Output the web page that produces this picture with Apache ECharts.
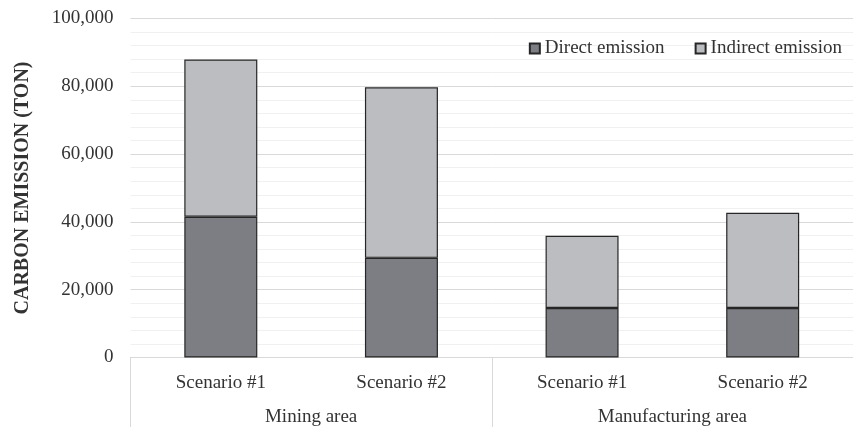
<!DOCTYPE html>
<html>
<head>
<meta charset="utf-8">
<script src="https://cdn.jsdelivr.net/npm/echarts@6/dist/echarts.min.js"></script>
<style>
  html, body { margin: 0; padding: 0; background: #fff; }
  #chart { width: 853px; height: 427px; }
</style>
</head>
<body>
<div id="chart"></div>
<script>
// scenario labels and the area each pair belongs to
const scenarios = ['Scenario #1', 'Scenario #2', 'Scenario #1', 'Scenario #2'];
const areas = ['Mining area', 'Manufacturing area'];

// carbon emission (ton)
const directEmission = [41500, 29400, 14600, 14600];
const indirectEmission = [46400, 50300, 21300, 28100];

const FONT = "'Liberation Serif', 'Times New Roman', serif";
const TEXT = '#333333';

const chart = echarts.init(document.getElementById('chart'));

const option = {
  backgroundColor: '#ffffff',
  textStyle: { fontFamily: FONT },
  legend: {
    right: 6,
    top: 34,
    itemWidth: 10,
    itemHeight: 10,
    itemGap: 30,
    icon: 'rect',
    textStyle: { fontFamily: FONT, fontSize: 19, color: TEXT },
  },
  grid: {
    left: 130.5,
    top: 18.5,
    width: 736,
    height: 339,
  },
  xAxis: [
    {
      type: 'category',
      data: scenarios,
      axisLine: { lineStyle: { color: '#d9d9d9', width: 1 } },
      axisTick: { show: false },
      axisLabel: { fontFamily: FONT, fontSize: 19, color: TEXT, margin: 16, interval: 0 },
    },
    {
      type: 'category',
      data: areas,
      position: 'bottom',
      axisLine: { show: false },
      axisTick: { show: true, length: 75, interval: 0, lineStyle: { color: '#d9d9d9' } },
      axisLabel: { fontFamily: FONT, fontSize: 19, color: TEXT, margin: 50, interval: 0 },
    },
  ],
  yAxis: {
    type: 'value',
    min: 0,
    max: 100000,
    interval: 20000,
    name: 'CARBON EMISSION (TON)',
    nameLocation: 'middle',
    nameGap: 98,
    nameTextStyle: { fontFamily: FONT, fontSize: 20, fontWeight: 'bold', color: TEXT },
    axisLine: { show: false },
    axisTick: { show: false },
    axisLabel: {
      fontFamily: FONT,
      fontSize: 19,
      color: TEXT,
      margin: 17,
      formatter: (v) => v.toLocaleString('en-US'),
    },
    splitLine: { lineStyle: { color: '#d9d9d9' } },
    minorTick: { show: false, splitNumber: 5 },
    minorSplitLine: { show: true, lineStyle: { color: '#f0f0f0' } },
  },
  series: [
    {
      name: 'Direct emission',
      type: 'bar',
      stack: 'total',
      barWidth: 73,
      data: directEmission,
      itemStyle: { color: '#7d7e83', borderColor: '#262626', borderWidth: 1.2 },
    },
    {
      name: 'Indirect emission',
      type: 'bar',
      stack: 'total',
      barWidth: 73,
      data: indirectEmission,
      itemStyle: { color: '#bcbdc1', borderColor: '#262626', borderWidth: 1.2 },
    },
  ],
};

chart.setOption(option);
</script>
</body>
</html>
